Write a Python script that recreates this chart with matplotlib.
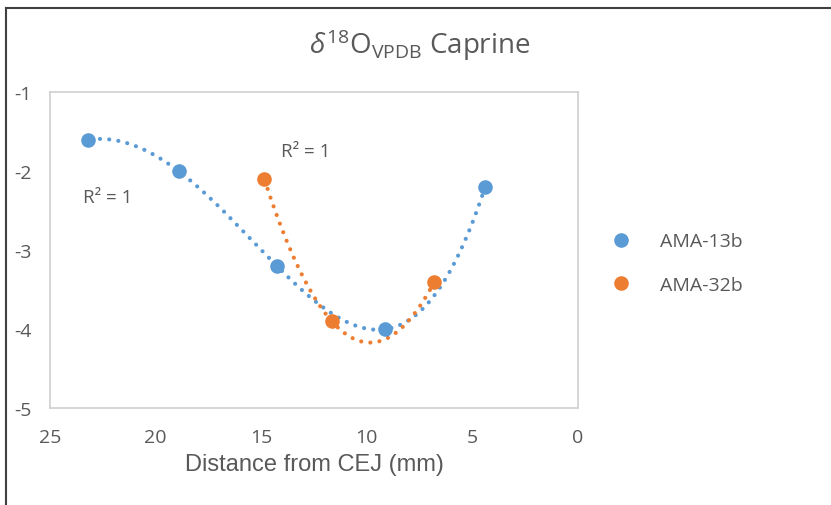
import numpy as np
import matplotlib
matplotlib.use("Agg")
import matplotlib.pyplot as plt
from matplotlib.lines import Line2D

# data
x_13b = [23.2, 18.9, 14.25, 9.15, 4.4]
y_13b = [-1.6, -2.0, -3.2, -4.0, -2.2]
x_32b = [14.85, 11.65, 6.8]
y_32b = [-2.1, -3.9, -3.4]

blue = "#5B9BD5"
orange = "#ED7D31"
grey_txt = "#595959"

plt.rcParams["mathtext.fontset"] = "custom"
plt.rcParams["mathtext.rm"] = "Open Sans"
plt.rcParams["mathtext.it"] = "Open Sans:italic"

fig = plt.figure(figsize=(8.31, 5.06), dpi=100)
ax = fig.add_axes([50/831, 1-409.3/506, 528/831, 316/506])

ax.plot(x_13b, y_13b, "o", color=blue, ms=10.5, mec="none", label="AMA-13b", zorder=3)
ax.plot(x_32b, y_32b, "o", color=orange, ms=10.5, mec="none", label="AMA-32b", zorder=3)

# polynomial trendlines (order 4 and order 2, as excel)
dots = (0, (0.01, 2.2))
p1 = np.polyfit(x_13b, y_13b, 4)
xs = np.linspace(min(x_13b), max(x_13b), 300)
ax.plot(xs, np.polyval(p1, xs), color=blue, lw=3, ls=dots,
        dash_capstyle="round", zorder=2)
p2 = np.polyfit(x_32b, y_32b, 2)
xs2 = np.linspace(min(x_32b), max(x_32b), 300)
ax.plot(xs2, np.polyval(p2, xs2), color=orange, lw=3, ls=dots,
        dash_capstyle="round", zorder=2)

ax.set_xlim(25, 0)
ax.set_ylim(-5, -1)
ax.set_xticks([25, 20, 15, 10, 5, 0])
ax.set_yticks([-1, -2, -3, -4, -5])
ax.set_xticklabels(["25", "20", "15", "10", "5", "0"])
ax.set_yticklabels(["-1", "-2", "-3", "-4", "-5"])
ax.tick_params(length=0, labelsize=14, labelcolor=grey_txt)
ax.tick_params(axis="y", pad=13)
ax.tick_params(axis="x", pad=14)
for lab in ax.get_xticklabels() + ax.get_yticklabels():
    lab.set_family("Open Sans")
for sp in ax.spines.values():
    sp.set_color("#D0D0D0")
    sp.set_linewidth(1.2)

ax.set_xlabel("Distance from CEJ (mm)", fontsize=17, color=grey_txt,
              family="Liberation Sans", labelpad=5)

fig.text(83/831, 1 - 198/506, "R² = 1", fontsize=13.5,
         color=grey_txt, family="Open Sans", va="center")
fig.text(281/831, 1 - 152/506, "R² = 1", fontsize=13.5,
         color=grey_txt, family="Open Sans", va="center")

fig.text(420/831, 1 - 45/506, r"$\mathit{\delta}^{18}$O$_{\mathrm{VPDB}}$ Caprine",
         ha="center", va="center", fontsize=20, color=grey_txt, family="Open Sans")

leg = fig.legend(handles=ax.lines[:2], loc="center left",
                 bbox_to_anchor=(592/831, 1 - 264/506), frameon=False,
                 prop={"family": "Open Sans", "size": 14}, labelspacing=1.3,
                 handletextpad=1.4, handlelength=1.2)
for txt in leg.get_texts():
    txt.set_color(grey_txt)

# outer frame of the chart
fig.add_artist(Line2D([6/831, 6/831], [0, 1 - 9/506], transform=fig.transFigure,
                      color="#404040", lw=1.5))
fig.add_artist(Line2D([6/831, 1], [1 - 9/506, 1 - 9/506], transform=fig.transFigure,
                      color="#404040", lw=1.5))

fig.savefig("out.png", dpi=100)
